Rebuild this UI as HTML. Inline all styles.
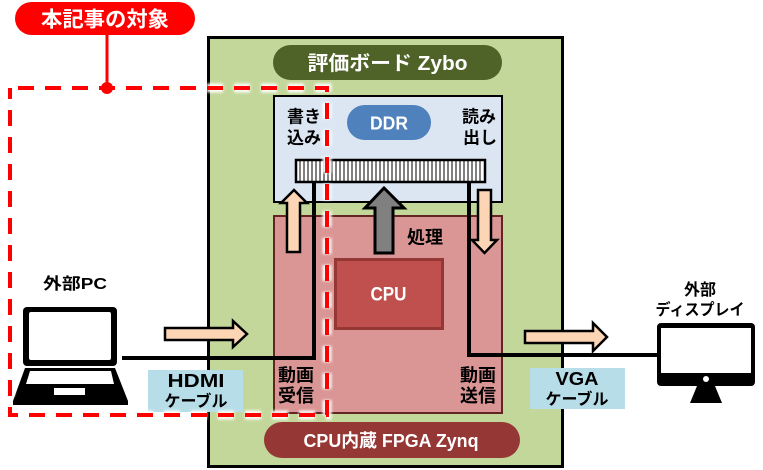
<!DOCTYPE html>
<html><head><meta charset="utf-8"><style>
html,body{margin:0;padding:0;background:#fff;}
svg{display:block;}
text{font-family:"Liberation Sans","Noto Sans CJK JP",sans-serif;font-weight:bold;}
</style></head><body>
<svg width="763" height="470" viewBox="0 0 763 470" xmlns="http://www.w3.org/2000/svg">
<defs>
<filter id="glow" x="-5%" y="-5%" width="110%" height="110%"><feGaussianBlur stdDeviation="1.2"/></filter>
</defs>
<!-- board -->
<rect x="208.5" y="37.5" width="354" height="429" fill="#c4d79b" stroke="#000" stroke-width="3"/>
<rect x="273" y="45" width="229" height="35" rx="17.5" fill="#4f6228"/>
<text x="387.5" y="70" font-size="20" fill="#fff" text-anchor="middle" textLength="160" lengthAdjust="spacingAndGlyphs">評価ボード Zybo</text>

<!-- DDR box -->
<rect x="274" y="96" width="228" height="106" fill="#dce6f2" stroke="#000" stroke-width="2"/>
<rect x="347" y="105" width="84" height="35" rx="17.5" fill="#4f81bd"/>
<text x="389" y="129.5" font-size="18" fill="#fff" text-anchor="middle" textLength="38" lengthAdjust="spacingAndGlyphs">DDR</text>
<text x="287" y="122.5" font-size="17" fill="#000">書き</text>
<text x="287" y="143.5" font-size="17" fill="#000">込み</text>
<text x="462" y="122.5" font-size="17" fill="#000">読み</text>
<text x="463" y="143.5" font-size="17" fill="#000">出し</text>

<!-- processing box -->
<rect x="274" y="216" width="228" height="197" fill="#da9694" stroke="#632523" stroke-width="2"/>
<text x="407" y="243.5" font-size="18" fill="#000">処理</text>
<rect x="335.5" y="259.5" width="107" height="69" fill="#c0504d" stroke="#953735" stroke-width="3"/>
<text x="388.5" y="300.5" font-size="19" fill="#fff" text-anchor="middle" textLength="36" lengthAdjust="spacingAndGlyphs">CPU</text>
<text x="278" y="381.5" font-size="18" fill="#000">動画</text>
<text x="278" y="402" font-size="18" fill="#000">受信</text>
<text x="460" y="381.5" font-size="18" fill="#000">動画</text>
<text x="460" y="402" font-size="18" fill="#000">送信</text>

<!-- memory bar -->
<rect x="296" y="160" width="189" height="22" fill="#fff" stroke="#000" stroke-width="2.5"/>
<g stroke="#000" stroke-width="1">
<path d="M300 161V181M304 161V181M308 161V181M312 161V181M316 161V181M320 161V181M324 161V181M328 161V181M332 161V181M336 161V181M340 161V181M344 161V181M348 161V181M352 161V181M356 161V181M360 161V181M364 161V181M368 161V181M372 161V181M376 161V181M380 161V181M384 161V181M388 161V181M392 161V181M396 161V181M400 161V181M404 161V181M408 161V181M412 161V181M416 161V181M420 161V181M424 161V181M428 161V181M432 161V181M436 161V181M440 161V181M444 161V181M448 161V181M452 161V181M456 161V181M460 161V181M464 161V181M468 161V181M472 161V181M476 161V181M480 161V181"/>
</g>

<!-- arrows inside -->
<polygon points="375,253 375,208 365,208 384,188 404,208 393,208 393,253" fill="#808080" stroke="#000" stroke-width="3" stroke-linejoin="miter"/>
<polygon points="287,252 287,203 281,203 294,190 307,203 300,203 300,252" fill="#fcd5b5" stroke="#000" stroke-width="2.5"/>
<polygon points="478,190 491,190 491,240 497,240 484.5,253 472,240 478,240" fill="#fcd5b5" stroke="#000" stroke-width="2.5"/>

<!-- bottom pill -->
<rect x="264" y="422" width="256" height="36" rx="18" fill="#953735"/>
<text x="391" y="447" font-size="18" fill="#fff" text-anchor="middle" textLength="175" lengthAdjust="spacingAndGlyphs">CPU内蔵  FPGA Zynq</text>

<!-- cables -->
<path d="M314 182V358H122" fill="none" stroke="#000" stroke-width="4"/>
<path d="M469 182V355H658" fill="none" stroke="#000" stroke-width="4"/>

<!-- external arrows -->
<polygon points="165,328 233,328 233,321 247,334 233,347 233,340 165,340" fill="#fcd5b5" stroke="#000" stroke-width="2.5"/>
<polygon points="525,331 593,331 593,323 607,337 593,351 593,343 525,343" fill="#fcd5b5" stroke="#000" stroke-width="2.5"/>

<!-- cable labels -->
<rect x="148" y="370" width="95" height="42" fill="#b7dee8"/>
<text x="196" y="387" font-size="18" fill="#000" text-anchor="middle" textLength="57" lengthAdjust="spacingAndGlyphs">HDMI</text>
<text x="196" y="406.5" font-size="16" fill="#000" text-anchor="middle" textLength="63" lengthAdjust="spacingAndGlyphs">ケーブル</text>
<rect x="530" y="368" width="95" height="41" fill="#b7dee8"/>
<text x="577" y="385" font-size="18" fill="#000" text-anchor="middle" textLength="43" lengthAdjust="spacingAndGlyphs">VGA</text>
<text x="577" y="404.5" font-size="16" fill="#000" text-anchor="middle" textLength="63" lengthAdjust="spacingAndGlyphs">ケーブル</text>

<!-- laptop -->
<text x="75" y="289" font-size="16" fill="#000" text-anchor="middle" textLength="64" lengthAdjust="spacingAndGlyphs">外部PC</text>
<rect x="23" y="307" width="94" height="59" rx="4" fill="#000"/>
<rect x="29" y="312" width="82" height="48" rx="2" fill="#fff"/>
<polygon points="25,368 115,368 128,401 128,405 13,405 13,401" fill="#000"/>
<polygon points="30,371 111,371 114,384 26,384" fill="#fff"/>
<rect x="54" y="388" width="31" height="7" fill="#fff"/>

<!-- monitor -->
<text x="700" y="295" font-size="16" fill="#000" text-anchor="middle">外部</text>
<text x="700" y="315" font-size="16" fill="#000" text-anchor="middle" textLength="89" lengthAdjust="spacingAndGlyphs">ディスプレイ</text>
<rect x="657" y="323" width="98" height="63" rx="4" fill="#000"/>
<rect x="661" y="328" width="90" height="45" fill="#fff"/>
<circle cx="706" cy="379" r="3" fill="#fff"/>
<polygon points="697,386 715,386 722,403 690,403" fill="#000"/>

<!-- target label -->
<rect x="15" y="2" width="180" height="33" rx="16.5" fill="#ff0000"/>
<text x="105" y="26.5" font-size="21" fill="#fff" text-anchor="middle" textLength="128" lengthAdjust="spacingAndGlyphs">本記事の対象</text>
<line x1="107" y1="34" x2="107" y2="88" stroke="#ff0000" stroke-width="3"/>

<!-- dashed region -->
<path d="M18 88H327V415H10V88" fill="none" stroke="#fff" stroke-width="9" stroke-dasharray="16 11" filter="url(#glow)" opacity="0.95"/>
<path d="M18 88H327V415H10V88" fill="none" stroke="#ff0000" stroke-width="4" stroke-dasharray="16 11"/>
<circle cx="107" cy="88" r="6" fill="#ff0000"/>
</svg>
</body></html>
